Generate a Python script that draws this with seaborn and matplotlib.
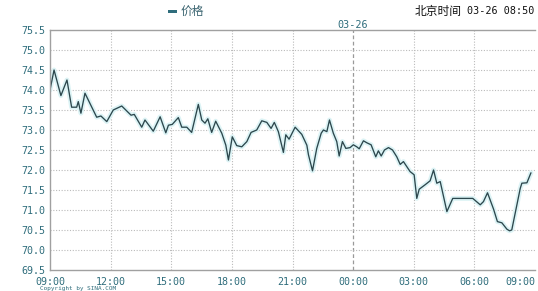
import matplotlib
matplotlib.use("Agg")
import matplotlib.pyplot as plt
from matplotlib.patches import Rectangle
import seaborn as sns
import pandas as pd

# hours elapsed since 09:00 (03-25) and price
hours = [0.00, 0.20, 0.54, 0.84, 1.07, 1.32, 1.40, 1.53, 1.73, 2.31, 2.52, 2.81, 3.13, 3.55,
         4.01, 4.17, 4.54, 4.70, 5.11, 5.45, 5.73, 5.86, 6.05, 6.35, 6.52, 6.77, 7.01, 7.34,
         7.51, 7.67, 7.81, 8.00, 8.20, 8.50, 8.70, 8.83, 9.02, 9.24, 9.49, 9.74, 9.95, 10.23,
         10.48, 10.73, 10.94, 11.10, 11.30, 11.55, 11.67, 11.83, 12.13, 12.46, 12.71, 12.79,
         12.99, 13.20, 13.42, 13.53, 13.70, 13.83, 14.02, 14.19, 14.31, 14.47, 14.64, 14.85,
         15.01, 15.18, 15.30, 15.51, 15.68, 15.89, 16.12, 16.25, 16.39, 16.55, 16.75, 16.95,
         17.16, 17.33, 17.49, 17.82, 18.02, 18.15, 18.27, 18.56, 18.81, 18.98, 19.14, 19.31,
         19.64, 19.93, 20.92, 21.29, 21.45, 21.65, 21.95, 22.14, 22.36, 22.61, 22.74, 22.85,
         23.27, 23.35, 23.60, 23.80]
price = [74.00, 74.50, 73.86, 74.25, 73.57, 73.57, 73.71, 73.42, 73.92, 73.32, 73.35, 73.21,
         73.50, 73.60, 73.37, 73.39, 73.07, 73.25, 72.97, 73.33, 72.93, 73.12, 73.14, 73.31,
         73.07, 73.07, 72.94, 73.64, 73.25, 73.17, 73.28, 72.94, 73.22, 72.92, 72.62, 72.25,
         72.83, 72.61, 72.58, 72.71, 72.94, 73.00, 73.23, 73.19, 73.04, 73.19, 72.96, 72.44,
         72.88, 72.77, 73.07, 72.89, 72.62, 72.38, 71.98, 72.54, 72.92, 73.00, 72.96, 73.25,
         72.92, 72.71, 72.35, 72.71, 72.54, 72.56, 72.63, 72.58, 72.53, 72.73, 72.68, 72.63,
         72.33, 72.48, 72.35, 72.50, 72.56, 72.50, 72.33, 72.14, 72.21, 71.96, 71.88, 71.29,
         71.52, 71.63, 71.73, 72.00, 71.67, 71.71, 70.96, 71.29, 71.29, 71.13, 71.21, 71.43,
         71.02, 70.71, 70.68, 70.52, 70.48, 70.50, 71.54, 71.67, 71.68, 71.93]

x_ticks = [0, 3, 6, 9, 12, 15, 18, 21, 24]
x_labels = ["09:00", "12:00", "15:00", "18:00", "21:00", "00:00", "03:00", "06:00", "09:00"]
y_ticks = [69.5, 70.0, 70.5, 71.0, 71.5, 72.0, 72.5, 73.0, 73.5, 74.0, 74.5, 75.0, 75.5]
legend_label = "价格"
title_cn = "北京时间"
title_time = "03-26 08:50"
day_label = "03-26"
day_break = 15
copyright_text = "Copyright by SINA.COM"

df = pd.DataFrame({"hours": hours, "price": price})

sns.set_style("white")
plt.rcParams["font.family"] = ["Noto Sans CJK SC", "DejaVu Sans"]

W, H = 538, 291
fig = plt.figure(figsize=(W / 100, H / 100), dpi=100)
ax = fig.add_axes([50 / W, 1 - 270 / H, 485 / W, 240 / H])

tick_color = "#2f6d7c"
line_color = "#2c474d"

sns.lineplot(data=df, x="hours", y="price", ax=ax, color="#dcf3f5", linewidth=3.5,
             estimator=None, sort=False, legend=False)
sns.lineplot(data=df, x="hours", y="price", ax=ax, color=line_color, linewidth=0.95,
             estimator=None, sort=False, legend=False)

ax.set_xlim(0, 24)
ax.set_ylim(69.5, 75.5)
ax.set_xticks(x_ticks)
ax.set_xticklabels(x_labels)
ax.set_yticks(y_ticks)
ax.set_yticklabels([f"{v:.1f}" for v in y_ticks])
ax.set_xlabel("")
ax.set_ylabel("")
for lab in ax.get_xticklabels() + ax.get_yticklabels():
    lab.set_family("DejaVu Sans Mono")
    lab.set_fontsize(7.2)
    lab.set_color(tick_color)
ax.get_xticklabels()[-1].set_ha("right")
ax.tick_params(axis="y", length=0, pad=3)
ax.tick_params(axis="x", length=0, pad=5)

# grid
for xv in x_ticks[1:-1]:
    if xv == day_break:
        ax.axvline(xv, color="#9a9a9a", linewidth=0.9, linestyle=(0, (3, 2)), zorder=0)
    else:
        ax.axvline(xv, color="#bbbbbb", linewidth=0.8, linestyle=(0, (1, 1.5)), zorder=0)
for yv in y_ticks[1:-1]:
    ax.axhline(yv, color="#bbbbbb", linewidth=0.8, linestyle=(0, (1, 1.5)), zorder=0)

for side in ["left", "bottom", "top"]:
    ax.spines[side].set_color("#a0a0a0")
    ax.spines[side].set_linewidth(1.0)
ax.spines["right"].set_visible(False)

# legend-like header
fig.add_artist(Rectangle((168 / W, 1 - 12.5 / H), 9 / W, 3 / H, transform=fig.transFigure,
                         color=tick_color, lw=0))
fig.text(181 / W, 1 - 11 / H, legend_label, color="#3a6470", fontsize=8.5, va="center", ha="left")

fig.text(415 / W, 1 - 11 / H, title_cn, color="#111111", fontsize=8.5, va="center", ha="left")
fig.text(534 / W, 1 - 11 / H, title_time, color="#111111", fontsize=7.3, va="center", ha="right",
         family="DejaVu Sans Mono")

ax.text(day_break, 75.5, day_label, color=tick_color, fontsize=7.3, ha="center", va="bottom",
        family="DejaVu Sans Mono", transform=ax.transData)

fig.text(40 / W, 1 - 290.8 / H, copyright_text, color="#2f6d7c", fontsize=4.3, va="bottom",
         ha="left", family="DejaVu Sans Mono")

fig.savefig("out.png", dpi=100)
